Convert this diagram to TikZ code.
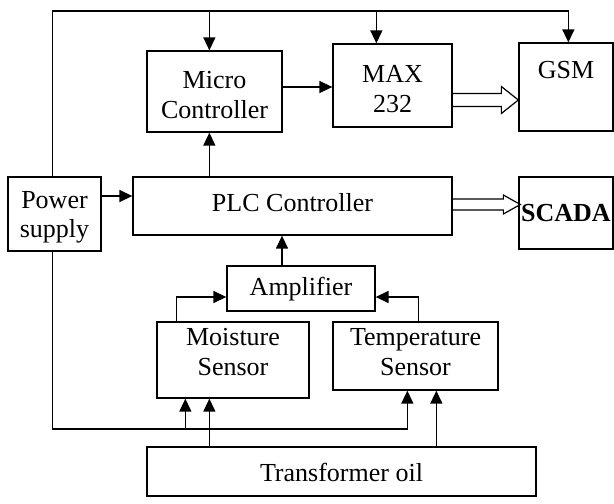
\documentclass[tikz,border=0pt]{standalone}
\usepackage{fontspec}
\setmainfont{Liberation Serif}
\usetikzlibrary{arrows.meta,calc}
\newcommand\hollowarrow[5]{%
  \draw[hollow] ($(#1)+(0,-#3)$) -- ($(#2)+(-#5,-#3)$) -- ($(#2)+(-#5,-#4)$) -- (#2)
     -- ($(#2)+(-#5,#4)$) -- ($(#2)+(-#5,#3)$) -- ($(#1)+(0,#3)$);}
\begin{document}
\begin{tikzpicture}[x=1pt,y=-1pt,
  box/.style={draw, line width=1.3pt, rectangle, inner sep=0pt,
    font=\fontsize{26}{30}\selectfont, align=center, text height=17.2pt, text depth=0pt},
  wire/.style={line width=1.4pt},
  arr/.style={wire, -{Triangle[length=13pt,width=12pt]}},
  hollow/.style={line width=1.2pt, line join=miter}]
\useasboundingbox (0,0) rectangle (614,504);

% boxes
\node[box, minimum width=135pt, minimum height=81pt, text height=54.2pt, text depth=0pt] (micro) at (214.5,91.5) {Micro\\Controller};
\node[box, minimum width=119pt, minimum height=83pt, text height=53.2pt, text depth=0pt] (max) at (392.5,85.5) {MAX\\232};
\node[box, minimum width=94pt, minimum height=88pt, text depth=34pt] (gsm) at (566,87) {GSM};
\node[box, minimum width=93pt, minimum height=74pt, text height=46.2pt, text depth=0pt, font=\fontsize{26}{29}\selectfont] (power) at (54.5,214) {Power\\supply};
\node[box, minimum width=319pt, minimum height=58pt, text depth=6pt] (plc) at (292.5,206) {PLC Controller};
\node[box, minimum width=94pt, minimum height=72pt] (scada) at (566,213) {\bfseries SCADA};
\node[box, minimum width=148pt, minimum height=45pt, text height=14.2pt] (amp) at (301,288.5) {Amplifier};
\node[box, minimum width=152pt, minimum height=76pt, text height=47.2pt, text depth=16pt] (moist) at (233,360) {Moisture\\Sensor};
\node[box, minimum width=165pt, minimum height=68pt, text height=47.2pt, text depth=8pt] (temp) at (415.5,356) {Temperature\\Sensor};
\node[box, minimum width=389pt, minimum height=49pt, text height=20.2pt] (trans) at (341.5,471.5) {Transformer oil};

% helper coordinates
\coordinate (bus) at (0,11);
\coordinate (gnd) at (0,429);
\coordinate (pwtop) at ($(power.north west)+(45,0)$);
\coordinate (pwbot) at ($(power.south west)+(45,0)$);
\coordinate (mcin) at ($(micro.north west)+(63,0)$);
\coordinate (maxin) at ($(max.north west)+(44,0)$);
\coordinate (gsmin) at ($(gsm.north west)+(50,0)$);
\coordinate (mpin) at ($(moist.south west)+(29,0)$);
\coordinate (m2) at ($(moist.south west)+(53,0)$);
\coordinate (tpin) at ($(temp.south west)+(75,0)$);
\coordinate (t2) at ($(temp.south west)+(104,0)$);

% power bus (top)
\draw[arr] (pwtop) |- (gsmin |- bus) -- (gsmin);
\draw[arr] (mcin |- bus) -- (mcin);
\draw[arr] (maxin |- bus) -- (maxin);

% power bus (bottom)
\draw[arr] (pwbot) |- (tpin |- gnd) -- (tpin);
\draw[arr] (mpin |- gnd) -- (mpin);

% signal connectors
\draw[arr] (plc.north -| mcin) -- (micro.south -| mcin);
\coordinate (mm) at ($(micro.east)+(0,-4.5)$);
\draw[arr] (mm) -- (max.west |- mm);
\coordinate (pp) at ($(power.east)+(0,-18)$);
\draw[arr] (pp) -- (plc.west |- pp);
\coordinate (ap) at ($(amp.north)+(-19,0)$);
\draw[arr] (ap) -- (plc.south -| ap);
\coordinate (amL) at ($(amp.west)+(0,8.5)$);
\coordinate (amR) at ($(amp.east)+(0,8.5)$);
\draw[arr] ($(moist.north west)+(20,0)$) |- (amL);
\draw[arr] ($(temp.north west)+(86,0)$) |- (amR);
\draw[arr] (trans.north -| m2) -- (m2);
\draw[arr] (trans.north -| t2) -- (t2);

% hollow (data) arrows
\coordinate (h1a) at ($(max.east)+(0,14.5)$);
\coordinate (h1b) at (gsm.west |- h1a);
\hollowarrow{h1a}{h1b}{6.5}{13.5}{17}
\coordinate (h2a) at ($(plc.east)+(0,-1.5)$);
\coordinate (h2b) at ($(scada.west |- h2a)+(2,0)$);
\hollowarrow{h2a}{h2b}{5.5}{9.5}{17}
\end{tikzpicture}
\end{document}
